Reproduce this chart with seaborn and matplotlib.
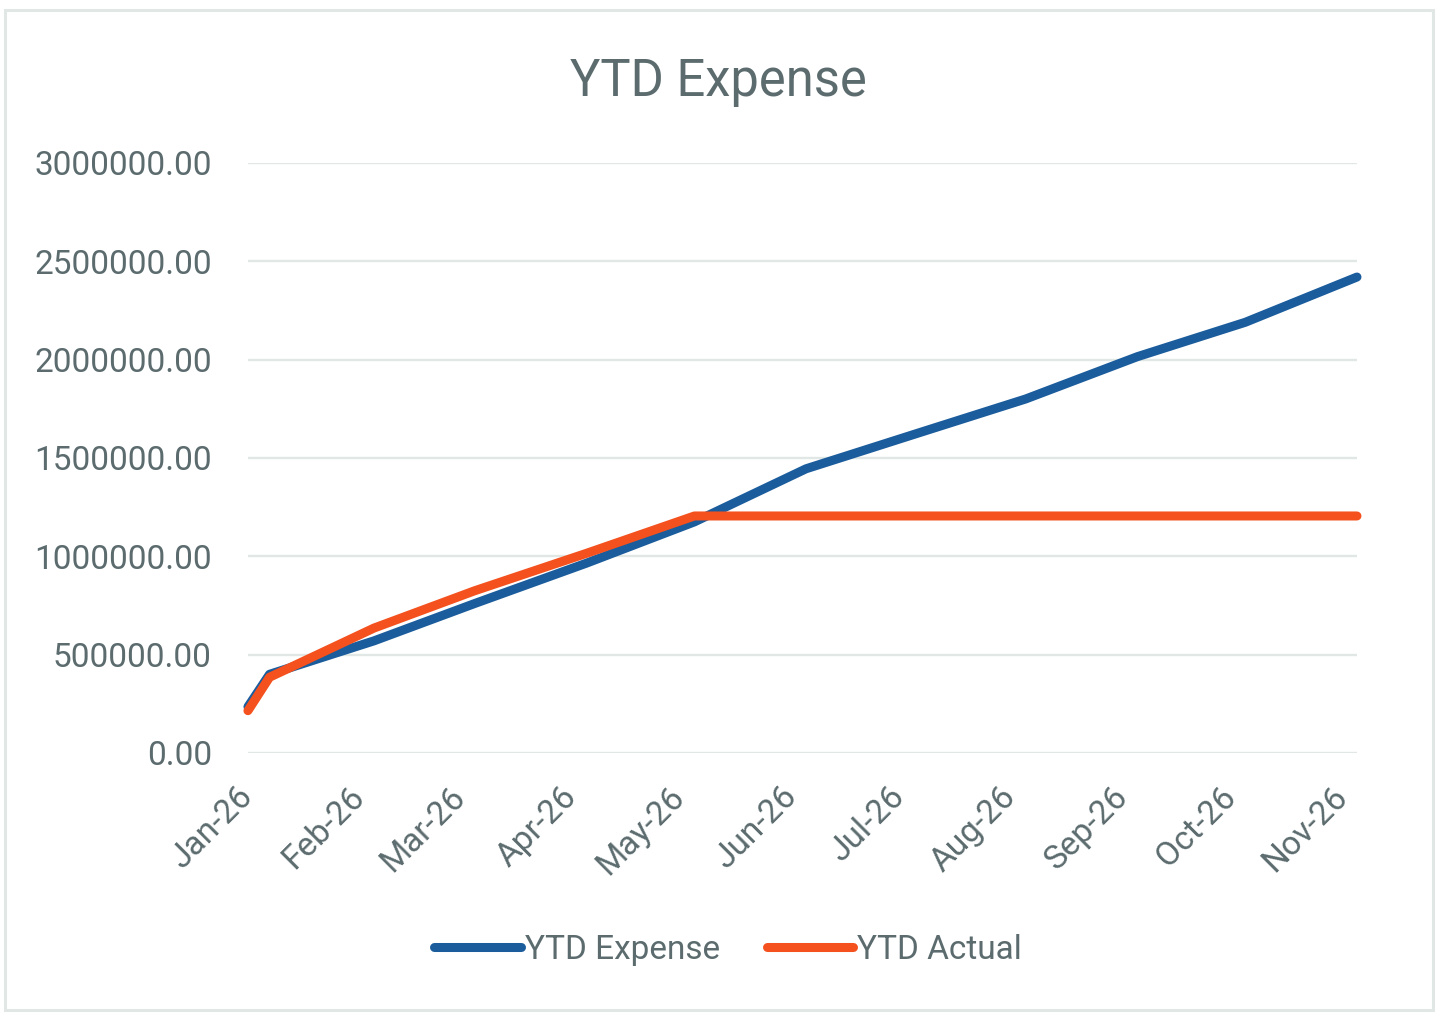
import pandas as pd
import seaborn as sns
import matplotlib.pyplot as plt
import matplotlib.dates as mdates
from matplotlib.patches import Rectangle
from matplotlib.ticker import FormatStrFormatter

sns.set_theme(style="white")
plt.rcParams['font.family'] = ['Roboto', 'DejaVu Sans']

dates = ["2026-01-01", "2026-01-07", "2026-02-05", "2026-03-05", "2026-04-05",
         "2026-05-05", "2026-06-05", "2026-07-05", "2026-08-05", "2026-09-05",
         "2026-10-05", "2026-11-05"]
ytd_expense = [235000, 400000, 570000, 760000, 965000, 1175000,
               1445000, 1620000, 1800000, 2015000, 2190000, 2420000]
ytd_actual = [215000, 385000, 635000, 825000, 1015000, 1205000,
              1205000, 1205000, 1205000, 1205000, 1205000, 1205000]

df = pd.DataFrame({
    "Date": pd.to_datetime(dates * 2),
    "Value": ytd_expense + ytd_actual,
    "Series": ["YTD Expense"] * len(dates) + ["YTD Actual"] * len(dates),
})

text_color = "#5B6B6E"
grid_color = "#E0E7E4"
palette = {"YTD Expense": "#1A5C9C", "YTD Actual": "#F4511E"}

fig = plt.figure(figsize=(14.39, 10.16), dpi=100)
ax = fig.add_axes([0.1723, 0.2589, 0.943 - 0.1723, 0.8396 - 0.2589])

sns.lineplot(data=df, x="Date", y="Value", hue="Series", palette=palette,
             linewidth=6.5, ax=ax, legend=False)
for line in ax.lines:
    line.set_solid_capstyle("round")
    line.set_solid_joinstyle("round")
    line.set_clip_on(False)

ax.set_ylim(0, 3000000)
ax.set_yticks([0, 500000, 1000000, 1500000, 2000000, 2500000, 3000000])
ax.yaxis.set_major_formatter(FormatStrFormatter("%.2f"))
ax.set_xlim(pd.Timestamp(dates[0]), pd.Timestamp(dates[-1]))
ax.xaxis.set_major_locator(mdates.MonthLocator())
ax.xaxis.set_major_formatter(mdates.DateFormatter("%b-%y"))

ax.grid(axis="y", color=grid_color, linewidth=1.7)
ax.set_axisbelow(True)
for s in ax.spines.values():
    s.set_visible(False)
ax.set_xlabel("")
ax.set_ylabel("")
ax.tick_params(axis="y", length=0, pad=26, labelsize=24, labelcolor=text_color)
ax.tick_params(axis="x", length=0, pad=28, labelsize=24, labelcolor=text_color)
for lbl in ax.get_xticklabels():
    lbl.set_rotation(45)
    lbl.set_ha("right")
    lbl.set_va("center")
    lbl.set_rotation_mode("anchor")

fig.text(0.4995, 0.9195, "YTD Expense", ha="center", va="center",
         fontsize=36.5, color=text_color)

handles = [plt.Line2D([], [], color=palette[k], linewidth=6.5,
                      solid_capstyle="round") for k in palette]
fig.legend(handles, list(palette), loc="center", bbox_to_anchor=(0.506, 0.065),
           ncol=2, frameon=False, fontsize=24, handlelength=2.6,
           handletextpad=0.12, columnspacing=1.4, labelcolor=text_color)

fig.patches.append(Rectangle((5 / 1439, 1 - 1010 / 1016), 1428 / 1439, 1000 / 1016,
                             transform=fig.transFigure, fill=False,
                             edgecolor=grid_color, linewidth=2.2))

fig.savefig("out.png", dpi=100)
